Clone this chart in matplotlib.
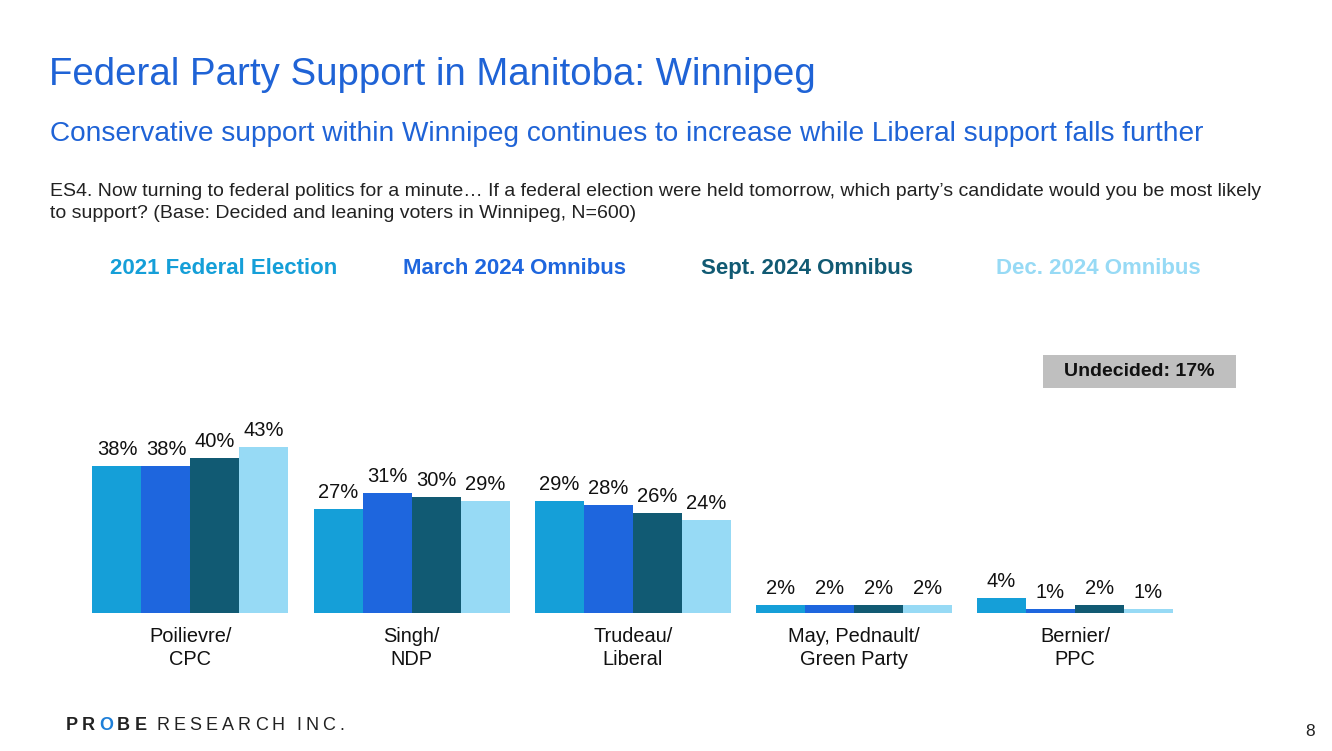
import matplotlib
matplotlib.use('Agg')
import matplotlib.pyplot as plt
from matplotlib.patches import Rectangle
import numpy as np

plt.rcParams['font.family'] = ['Liberation Sans', 'DejaVu Sans']

# data
categories = ['Poilievre/\nCPC', 'Singh/\nNDP', 'Trudeau/\nLiberal',
              'May, Pednault/\nGreen Party', 'Bernier/\nPPC']
series = ['2021 Federal Election', 'March 2024 Omnibus', 'Sept. 2024 Omnibus', 'Dec. 2024 Omnibus']
values = {
    '2021 Federal Election': [38, 27, 29, 2, 4],
    'March 2024 Omnibus': [38, 31, 28, 2, 1],
    'Sept. 2024 Omnibus': [40, 30, 26, 2, 2],
    'Dec. 2024 Omnibus': [43, 29, 24, 2, 1],
}
colors = ['#159FD8', '#1E66DE', '#115A73', '#97DAF5']
legend_x = [110, 403, 701, 996]
undecided = 'Undecided: 17%'

W, H = 1332, 751
fig = plt.figure(figsize=(W / 100, H / 100), dpi=100)


def fx(x):
    return x / W


def fy(y):
    return 1 - y / H


blue = '#1F63D6'
fig.text(fx(49), fy(75), 'Federal Party Support in Manitoba: Winnipeg',
         fontsize=27.6, color=blue, va='center', ha='left')
fig.text(fx(50), fy(134),
         'Conservative support within Winnipeg continues to increase while Liberal support falls further',
         fontsize=20.2, color=blue, va='center', ha='left')
fig.text(fx(50), fy(192),
         'ES4. Now turning to federal politics for a minute\u2026 If a federal election were held tomorrow, which party\u2019s candidate would you be most likely',
         fontsize=14, color='#222222', va='center', ha='left')
fig.text(fx(50), fy(213),
         'to support? (Base: Decided and leaning voters in Winnipeg, N=600)',
         fontsize=14, color='#222222', va='center', ha='left')

for name, c, lx in zip(series, colors, legend_x):
    fig.text(fx(lx), fy(268), name, fontsize=16, fontweight='bold', color=c,
             va='center', ha='left')

# chart
ax = fig.add_axes([fx(60), fy(613), (1290 - 60) / W, (613 - 340) / H])
x = np.arange(len(categories))
bw = 49 / 221.1
for i, (name, c) in enumerate(zip(series, colors)):
    bars = ax.bar(x + (i - 1.5) * bw, values[name], width=bw, color=c, linewidth=0)
    ax.bar_label(bars, labels=[f'{v}%' for v in values[name]], padding=5,
                 fontsize=14.5, color='#111111')

ax.set_xlim((60 - 190.5) / 221.1, (1290 - 190.5) / 221.1)
ax.set_ylim(0, 273 / 3.865)
ax.set_xticks(x)
ax.set_xticklabels(categories, fontsize=14.4, color='#111111', linespacing=1.3)
ax.tick_params(axis='x', length=0, pad=10)
ax.set_yticks([])
for s in ax.spines.values():
    s.set_visible(False)

# undecided box
fig.patches.append(Rectangle((fx(1043), fy(388)), (1236 - 1043) / W, (388 - 355) / H,
                             transform=fig.transFigure, facecolor='#BFBFBF',
                             edgecolor='none', zorder=0))
fig.text(fx(1139.5), fy(372), undecided, fontsize=14, fontweight='bold', color='#111111',
         ha='center', va='center')

# footer logo
renderer = fig.canvas.get_renderer()
px = 66
for ch in 'PROBE':
    col = '#1E7FD8' if ch == 'O' else '#222222'
    t = fig.text(fx(px), fy(726), ch, fontsize=13, fontweight='bold', color=col,
                 va='center', ha='left')
    px += t.get_window_extent(renderer).width + 4
px += 6
for ch in 'RESEARCH INC.':
    if ch == ' ':
        px += 7
        continue
    t = fig.text(fx(px), fy(726), ch, fontsize=13, color='#222222', va='center', ha='left')
    px += t.get_window_extent(renderer).width + 4.1

fig.text(fx(1310), fy(731), '8', fontsize=12.5, color='#222222', ha='center', va='center')

fig.savefig('out.png', dpi=100)
